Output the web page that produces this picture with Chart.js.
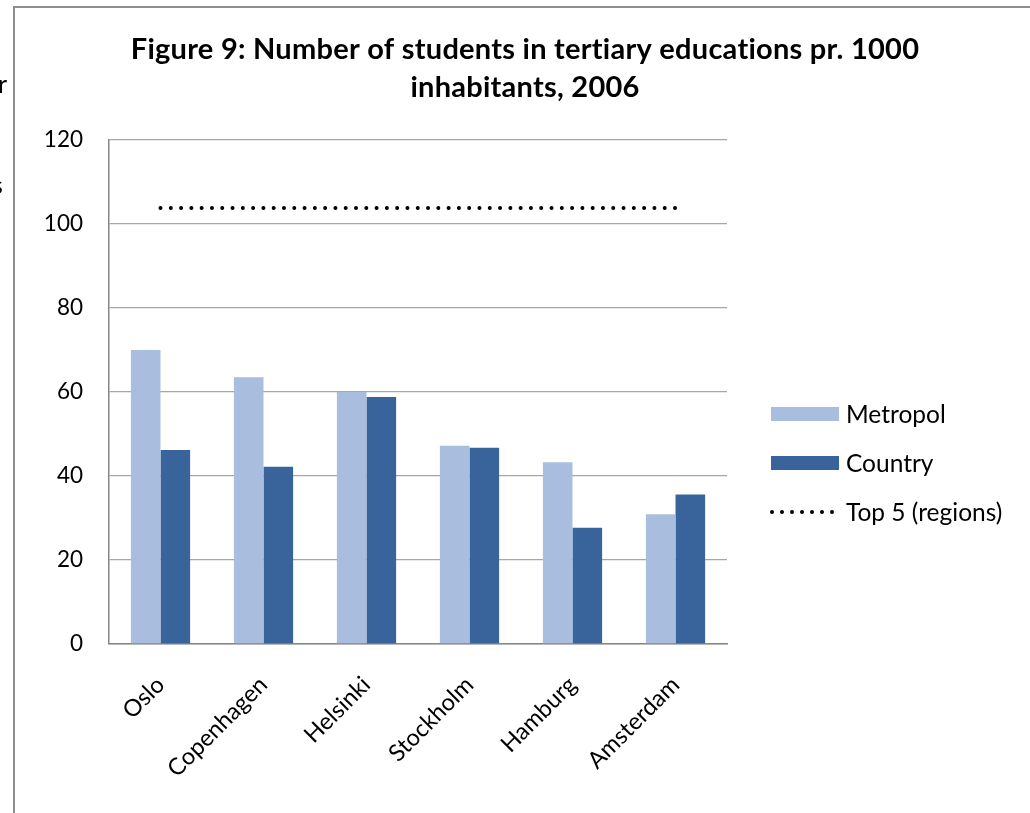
<!DOCTYPE html>
<html>
<head>
<meta charset="utf-8">
<script src="https://cdn.jsdelivr.net/npm/chart.js@4/dist/chart.umd.min.js"></script>
<style>
  html, body { margin: 0; padding: 0; background: #ffffff; }
  #wrap { width: 1030px; height: 813px; position: relative; }
</style>
</head>
<body>
<div id="wrap"><canvas id="c" width="1030" height="813"></canvas></div>
<script>
// Students in tertiary education per 1000 inhabitants, 2006
const cities = ['Oslo', 'Copenhagen', 'Helsinki', 'Stockholm', 'Hamburg', 'Amsterdam'];
const metropol = [70.0, 63.5, 60.0, 47.2, 43.3, 30.9];
const country = [46.2, 42.2, 58.8, 46.7, 27.7, 35.6];
const top5Regions = [103.8, 103.8, 103.8, 103.8, 103.8, 103.8];
const yTicks = [0, 20, 40, 60, 80, 100, 120];
const titleLines = ['Figure 9: Number of students in tertiary educations pr. 1000', 'inhabitants, 2006'];
const seriesNames = ['Metropol', 'Country', 'Top 5 (regions)'];

const FONT = 'Lato, "Open Sans", sans-serif';
const LIGHT = '#A9BEDE';
const DARK = '#38649B';

// page frame, cut-off text of the surrounding document, and the two-line title
const framePlugin = {
  id: 'frame',
  beforeDraw(chart) {
    const ctx = chart.ctx;
    ctx.save();
    ctx.fillStyle = '#ffffff';
    ctx.fillRect(0, 0, chart.width, chart.height);
    ctx.strokeStyle = '#8e8e8e';
    ctx.lineWidth = 2;
    ctx.beginPath();
    ctx.moveTo(14, 813);
    ctx.lineTo(14, 7);
    ctx.lineTo(1030, 7);
    ctx.stroke();
    ctx.fillStyle = '#000000';
    ctx.font = '25px ' + FONT;
    ctx.textBaseline = 'alphabetic';
    ctx.fillText('r', -2, 93);
    ctx.fillText('s', -8, 194);
    ctx.restore();
  },
  afterDraw(chart) {
    const ctx = chart.ctx;
    ctx.save();
    ctx.fillStyle = '#000000';
    ctx.font = 'bold 29px ' + FONT;
    ctx.letterSpacing = '0.25px';
    ctx.textAlign = 'center';
    ctx.textBaseline = 'middle';
    ctx.fillText(titleLines[0], 525, 50);
    ctx.fillText(titleLines[1], 525, 88);
    ctx.restore();
  }
};

// legend on the right: two boxes and a dotted line
const legendPlugin = {
  id: 'sideLegend',
  afterDraw(chart) {
    const ctx = chart.ctx;
    const ds = chart.data.datasets;
    const x0 = 771, w = 68, textX = 846;
    const rows = [414, 463, 512];
    ctx.save();
    ctx.font = '24.5px ' + FONT;
    ctx.textBaseline = 'middle';
    ds.forEach((d, i) => {
      const y = rows[i];
      if (d.type === 'line') {
        ctx.strokeStyle = d.borderColor;
        ctx.lineWidth = 4;
        ctx.lineCap = 'round';
        ctx.setLineDash([0, 10]);
        ctx.beginPath();
        ctx.moveTo(x0 + 1, y);
        ctx.lineTo(x0 + 61.5, y);
        ctx.stroke();
        ctx.setLineDash([]);
      } else {
        ctx.fillStyle = d.backgroundColor;
        ctx.fillRect(x0, y - 7, w, 14);
      }
      ctx.fillStyle = '#000000';
      ctx.fillText(d.label, textX, y + 1);
    });
    ctx.restore();
  }
};

new Chart(document.getElementById('c'), {
  data: {
    labels: cities,
    datasets: [
      { type: 'bar', label: seriesNames[0], data: metropol, backgroundColor: LIGHT, order: 2,
        categoryPercentage: 0.575, barPercentage: 1.0 },
      { type: 'bar', label: seriesNames[1], data: country, backgroundColor: DARK, order: 2,
        categoryPercentage: 0.575, barPercentage: 1.0 },
      { type: 'line', label: seriesNames[2], data: top5Regions, borderColor: '#000000', borderWidth: 4,
        borderDash: [0, 10.29], borderCapStyle: 'round', pointRadius: 0, fill: false, order: 1 }
    ]
  },
  options: {
    responsive: false,
    animation: false,
    layout: { padding: { left: 0, right: 303, top: 140, bottom: 0 } },
    plugins: {
      legend: { display: false },
      tooltip: { enabled: false },
      title: { display: false }
    },
    scales: {
      x: {
        grid: { display: false, drawTicks: false },
        border: { display: true, color: '#868686', width: 1.5 },
        ticks: {
          color: '#000000',
          font: { family: FONT, size: 23.5 },
          minRotation: 45, maxRotation: 45,
          padding: 27
        },
        afterFit(s) { s.height = 169; }
      },
      y: {
        min: 0, max: 120,
        afterBuildTicks(s) { s.ticks = yTicks.map(v => ({ value: v })); },
        grid: { color: '#a6a6a6', lineWidth: 1.3, drawTicks: false },
        border: { display: true, color: '#868686', width: 1.5 },
        ticks: {
          color: '#000000',
          font: { family: FONT, size: 22.5 },
          padding: 26
        },
        afterFit(s) { s.width = 109; }
      }
    }
  },
  plugins: [framePlugin, legendPlugin]
});
</script>
</body>
</html>
